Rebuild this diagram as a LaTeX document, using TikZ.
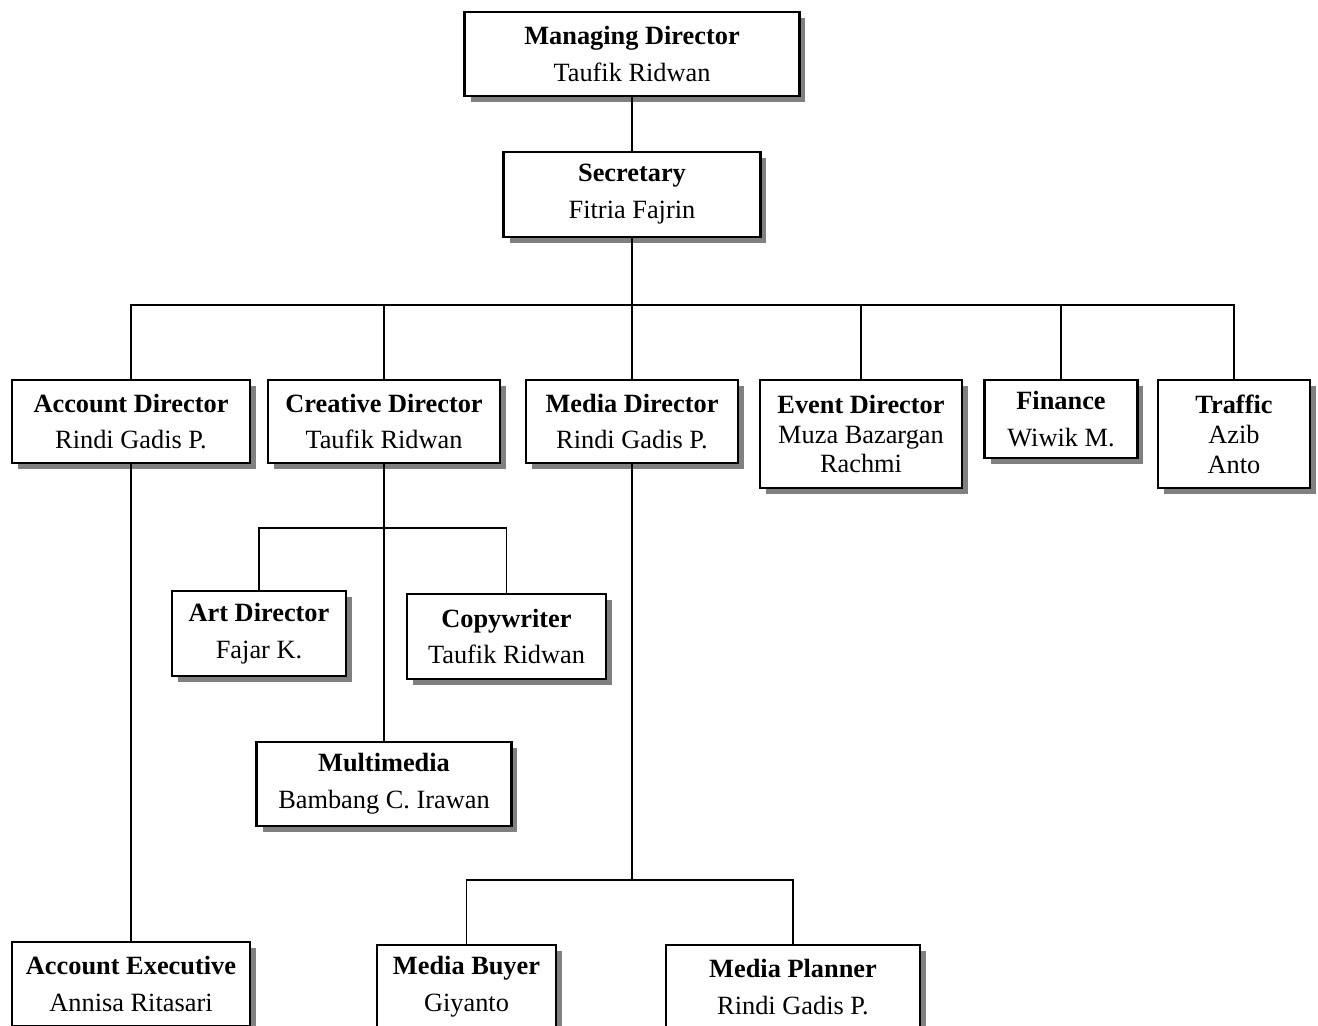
\documentclass[tikz,border=0pt]{standalone}
\usepackage{fontspec}
\setmainfont{Liberation Serif}
\usetikzlibrary{shadows}
\tikzset{
  org box/.style = {
    shape = rectangle,
    align = center,
    draw  = black,
    fill  = white,
    line width = 1.3pt,
    minimum width = #1,
    minimum height = 1.68cm,
    font = \fontsize{15}{21}\selectfont,
    drop shadow = {shadow xshift = 0.12cm, shadow yshift = -0.12cm,
                   fill = black!50, opacity = 1}},
  three lines/.style = {font = \fontsize{15}{17}\selectfont}
}

\begin{document}
\begin{tikzpicture}[x = 0.02cm, y = -0.02cm, line width = 1.1pt]
  \useasboundingbox (0,0) rectangle (1318,1025);
  % top
  \node[org box = 6.7cm] (mgr) at (632,54) {\textbf{Managing Director}\\ Taufik Ridwan};
  \node[org box = 5.14cm, minimum height = 1.7cm] (sec) at (632,194.5) {\textbf{Secretary}\\ Fitria Fajrin};
  % directors
  \node[org box = 4.76cm, minimum height = 1.66cm] (acc) at (131,421.5) {\textbf{Account Director}\\ Rindi Gadis P.};
  \node[org box = 4.64cm, minimum height = 1.66cm] (cre) at (384,421.5) {\textbf{Creative Director}\\ Taufik Ridwan};
  \node[org box = 4.24cm, minimum height = 1.66cm] (med) at (632,421.5) {\textbf{Media Director}\\ Rindi Gadis P.};
  \node[org box = 4.04cm, minimum height = 2.16cm, three lines] (evt) at (861,434) {\textbf{Event Director}\\ Muza Bazargan\\ Rachmi};
  \node[org box = 3.06cm, minimum height = 1.56cm] (fin) at (1061,419) {\textbf{Finance}\\ Wiwik M.};
  \node[org box = 3.04cm, minimum height = 2.16cm, three lines] (trf) at (1234,434) {\textbf{Traffic}\\ Azib\\ Anto};
  % creative team
  \node[org box = 3.48cm, minimum height = 1.7cm] (art) at (259,633.5) {\textbf{Art Director}\\ Fajar K.};
  \node[org box = 3.98cm, minimum height = 1.7cm] (copy) at (506.5,636.5) {\textbf{Copywriter}\\ Taufik Ridwan};
  \node[org box = 5.1cm] (mult) at (384,784) {\textbf{Multimedia}\\ Bambang C. Irawan};
  % bottom row
  \node[org box = 4.76cm] (exec) at (131,984) {\textbf{Account Executive}\\ Annisa Ritasari};
  \node[org box = 3.58cm] (buy) at (466.5,987) {\textbf{Media Buyer}\\ Giyanto};
  \node[org box = 5.08cm] (plan) at (793,987) {\textbf{Media Planner}\\ Rindi Gadis P.};
  % connectors
  \coordinate (hub) at (632,305);
  \coordinate (crehub) at (384,528);
  \coordinate (medhub) at (632,880);
  \draw (mgr) -- (sec);
  \draw (sec) -- (hub);
  \foreach \d in {acc,cre,med,evt,fin,trf}
    \draw (hub) -| (\d.north);
  \draw (cre) -- (mult);
  \draw (crehub) -| (art.north);
  \draw (crehub) -| (copy.north);
  \draw (med) -- (medhub);
  \draw (medhub) -| (buy.north);
  \draw (medhub) -| (plan.north);
  \draw (acc) -- (exec);
\end{tikzpicture}
\end{document}
